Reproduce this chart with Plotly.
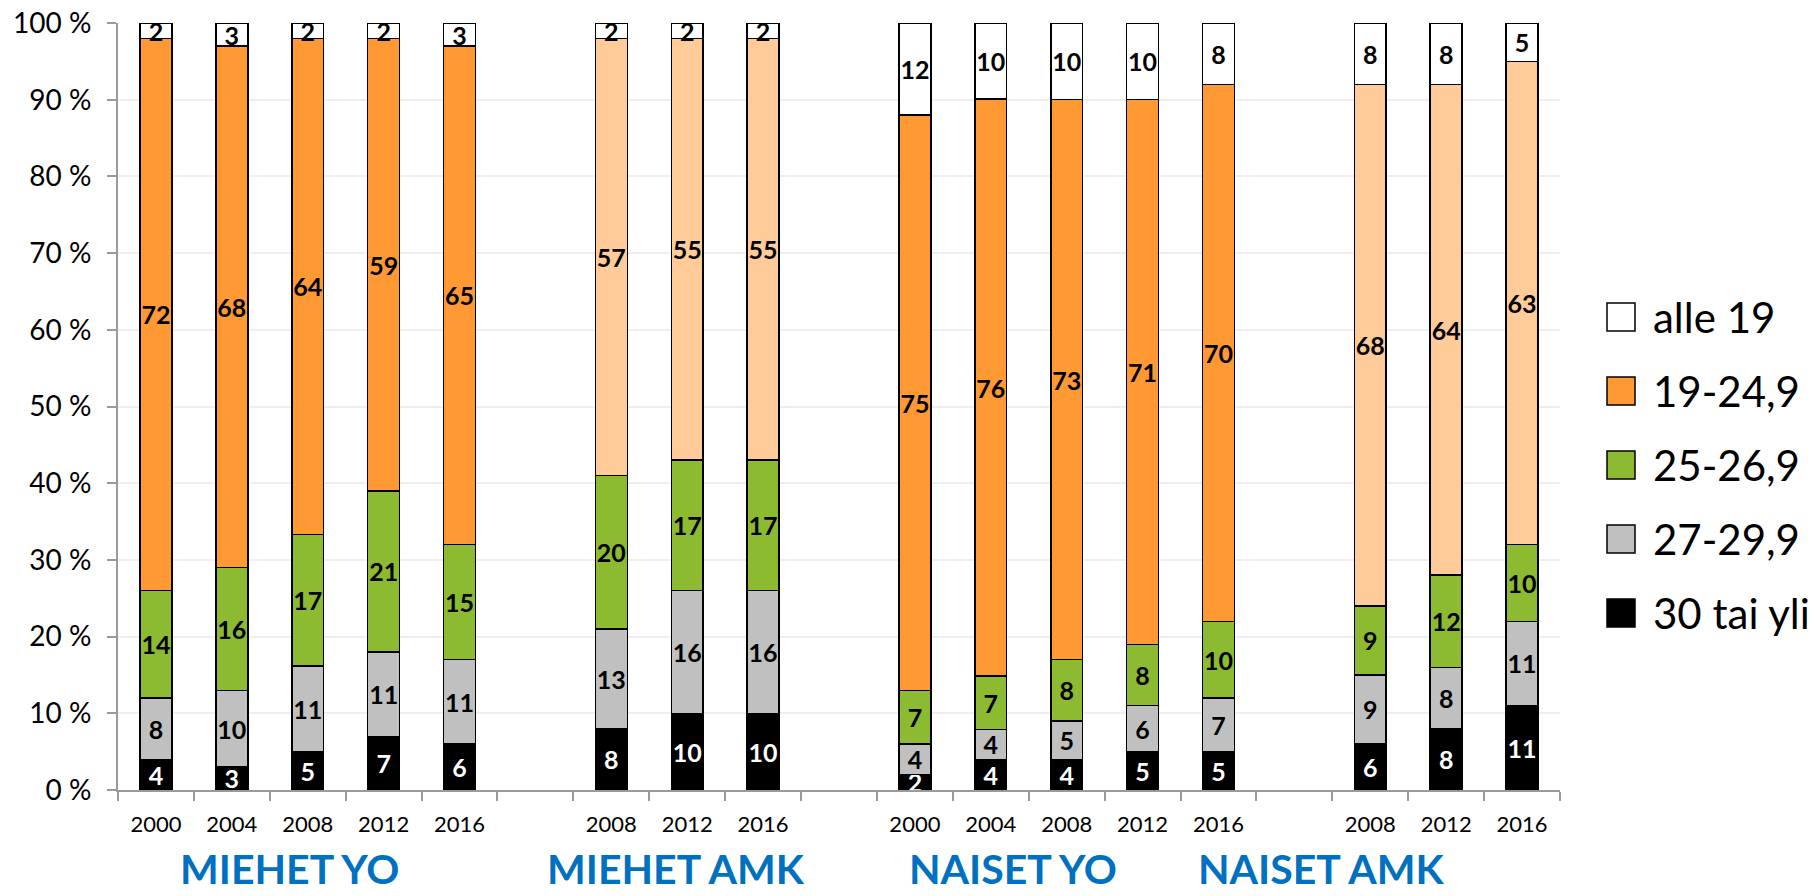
import plotly.graph_objects as go

# ---------------- data ----------------
groups = ["MIEHET YO", "MIEHET AMK", "NAISET YO", "NAISET AMK"]
group_years = [
    [2000, 2004, 2008, 2012, 2016],
    [2008, 2012, 2016],
    [2000, 2004, 2008, 2012, 2016],
    [2008, 2012, 2016],
]
group_is_amk = [False, True, False, True]

series_names = ["30 tai yli", "27-29,9", "25-26,9", "19-24,9", "alle 19"]
v_30 = [4, 3, 5, 7, 6, 8, 10, 10, 2, 4, 4, 5, 5, 6, 8, 11]
v_27 = [8, 10, 11, 11, 11, 13, 16, 16, 4, 4, 5, 6, 7, 9, 8, 11]
v_25 = [14, 16, 17, 21, 15, 20, 17, 17, 7, 7, 8, 8, 10, 9, 12, 10]
v_19 = [72, 68, 64, 59, 65, 57, 55, 55, 75, 76, 73, 71, 70, 68, 64, 63]
v_under = [2, 3, 2, 2, 3, 2, 2, 2, 12, 10, 10, 10, 8, 8, 8, 5]
series_values = [v_30, v_27, v_25, v_19, v_under]

y_ticks = [0, 10, 20, 30, 40, 50, 60, 70, 80, 90, 100]
y_tick_labels = [f"{t} %" for t in y_ticks]

# ---------------- styles ----------------
FONT = "Lato"
c_black = "#000000"
c_gray = "#C0C0C0"
c_green = "#8CBB31"
c_orange = "#FF9933"
c_light_orange = "#FFCC99"
c_white = "#FFFFFF"
series_colors = [c_black, c_gray, c_green, c_orange, c_white]
text_colors = ["white", "black", "black", "black", "black"]

# x slot positions: one empty slot between groups
x_pos, x_lab, amk_flags = [], [], []
slot = 0
for gi, yrs in enumerate(group_years):
    for y in yrs:
        x_pos.append(slot)
        x_lab.append(str(y))
        amk_flags.append(group_is_amk[gi])
        slot += 1
    slot += 1
n_slots = slot - 1  # 19

fig = go.Figure()
for si, (name, vals) in enumerate(zip(series_names, series_values)):
    if name == "19-24,9":
        colors = [c_light_orange if a else c_orange for a in amk_flags]
    else:
        colors = series_colors[si]
    fig.add_trace(go.Bar(
        x=x_pos, y=vals, name=name,
        width=0.42,
        marker=dict(color=colors, line=dict(color="black", width=1.5)),
        text=[str(v) for v in vals],
        texttemplate="%{text}",
        textposition="inside",
        insidetextanchor="middle",
        textangle=0,
        constraintext="none",
        cliponaxis=True,
        textfont=dict(family=FONT, size=25, color=text_colors[si], weight="bold"),
        showlegend=False,
        hovertemplate=name + ": %{text}<extra></extra>",
    ))

# boundary ticks (minor) on x-axis
boundaries = [i - 0.5 for i in range(n_slots + 1)]

fig.update_layout(
    barmode="stack",
    barnorm="percent",
    width=1814, height=896,
    paper_bgcolor="white", plot_bgcolor="white",
    margin=dict(l=118, r=254, t=23, b=106, autoexpand=False),
    font=dict(family=FONT, color="black"),
    showlegend=False,
    xaxis=dict(
        range=[-0.5, n_slots - 0.5],
        automargin=False,
        tickmode="array", tickvals=x_pos, ticktext=x_lab,
        ticks="", showgrid=False, zeroline=False,
        showline=True, linecolor="#9A9A9A", linewidth=2,
        tickfont=dict(family=FONT, size=22, color="black"),
        ticklabelstandoff=14,
        minor=dict(tickmode="array", tickvals=boundaries, ticks="outside",
                   ticklen=9, tickwidth=2, tickcolor="#9A9A9A", showgrid=False),
    ),
    yaxis=dict(
        range=[0, 100],
        automargin=False,
        tickmode="array", tickvals=y_ticks, ticktext=y_tick_labels,
        ticks="outside", ticklen=9, tickwidth=2, tickcolor="#9A9A9A",
        showline=True, linecolor="#9A9A9A", linewidth=2,
        showgrid=True, gridcolor="#EFEFEF", gridwidth=1.5,
        zeroline=False,
        tickfont=dict(family=FONT, size=28, color="black"),
        ticklabelstandoff=10,
    ),
)

# group labels under the axis
group_label_x = [0.119, 0.387, 0.621, 0.834]
for g, gx in zip(groups, group_label_x):
    fig.add_annotation(
        text=g, xref="paper", yref="paper", x=gx, y=-0.102,
        xanchor="center", yanchor="middle", showarrow=False,
        font=dict(family=FONT, size=41, color="#0070C0", weight="bold"),
    )

# custom legend (top item = last series)
leg_y0 = 0.6167
leg_dy = 0.0965
sq_hx = 14 / 1442
sq_hy = 14 / 767
sq_cx = 1.0423
for k, si in enumerate(reversed(range(len(series_names)))):
    yc = leg_y0 - k * leg_dy
    fig.add_shape(type="rect", xref="paper", yref="paper",
                  x0=sq_cx - sq_hx, x1=sq_cx + sq_hx, y0=yc - sq_hy, y1=yc + sq_hy,
                  fillcolor=series_colors[si], line=dict(color="black", width=1.5))
    fig.add_annotation(
        text=series_names[si], xref="paper", yref="paper", x=1.063, y=yc,
        xanchor="left", yanchor="middle", showarrow=False,
        font=dict(family=FONT, size=42, color="black"),
    )

fig.write_html("out.html",
               config={"displayModeBar": False},
               post_script="document.body.style.margin='0';document.body.style.overflow='hidden';")
